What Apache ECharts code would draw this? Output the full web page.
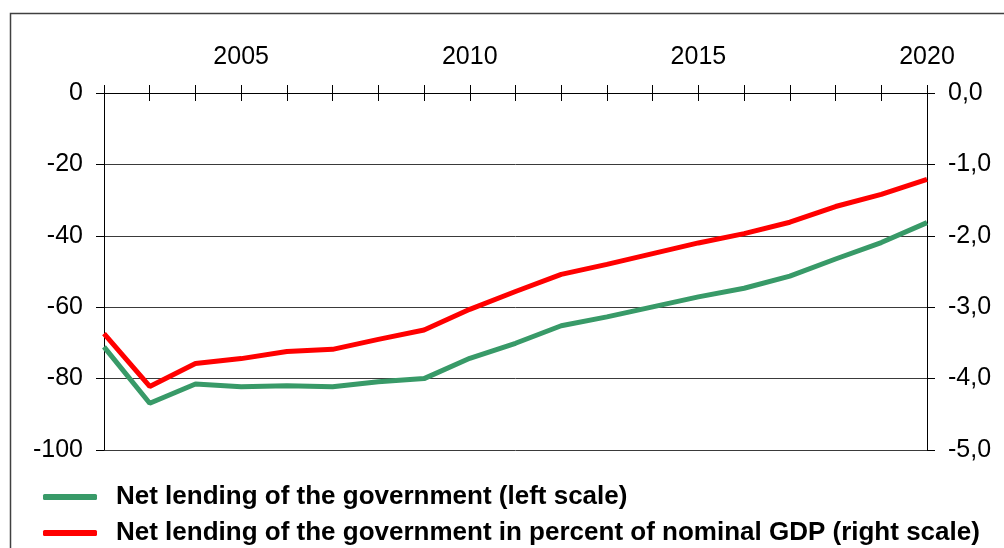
<!DOCTYPE html>
<html>
<head>
<meta charset="utf-8">
<script src="https://cdn.jsdelivr.net/npm/echarts@6/dist/echarts.min.js"></script>
<style>
    html, body { margin: 0; padding: 0; background: #fff; }
    #chart { width: 1004px; height: 548px; }
</style>
</head>
<body>
<div id="chart"></div>
<script>
// years on the top axis
const years = ['2002', '2003', '2004', '2005', '2006', '2007', '2008', '2009', '2010', '2011',
    '2012', '2013', '2014', '2015', '2016', '2017', '2018', '2019', '2020'];

// net lending, left scale
const netLending = [-71.1, -86.9, -81.5, -82.3, -82.0, -82.3, -80.9, -80.0, -74.3, -70.1,
    -65.2, -62.7, -59.9, -57.1, -54.7, -51.3, -46.5, -41.9, -36.3];

// net lending in percent of nominal GDP, right scale
const netLendingPct = [-3.37, -4.11, -3.79, -3.72, -3.62, -3.59, -3.45, -3.32, -3.03, -2.78,
    -2.54, -2.40, -2.25, -2.10, -1.97, -1.81, -1.59, -1.42, -1.21];

const seriesNames = [
    'Net lending of the government (left scale)',
    'Net lending of the government in percent of nominal GDP (right scale)'
];

const FONT = "'Liberation Sans', Arial, sans-serif";

const chart = echarts.init(document.getElementById('chart'));

const labelStyle = { color: '#000', fontSize: 25, fontFamily: FONT };

const option = {
    animation: false,
    graphic: [{
        type: 'rect',
        left: 8,
        top: 11,
        shape: { width: 1200, height: 800 },
        style: { fill: 'none', stroke: '#404040', lineWidth: 1.5 },
        silent: true
    }],
    grid: { left: 104, right: 77, top: 93, bottom: 98 },
    legend: {
        orient: 'vertical',
        left: 43,
        top: 484,
        padding: 0,
        icon: 'roundRect',
        itemWidth: 54,
        itemHeight: 6,
        itemGap: 10,
        data: seriesNames,
        textStyle: {
            color: '#000',
            fontSize: 26,
            fontWeight: 'bold',
            fontFamily: FONT,
            lineHeight: 26,
            padding: [0, 0, 0, 14]
        }
    },
    xAxis: [
        {
            type: 'category',
            position: 'top',
            boundaryGap: false,
            data: years,
            axisLine: { lineStyle: { color: '#000', width: 1 } },
            axisTick: { show: true, interval: 0, length: 8, lineStyle: { color: '#000' } },
            axisLabel: Object.assign({
                interval: (i, v) => Number(v) % 5 === 0,
                margin: 23
            }, labelStyle),
            splitLine: { show: false }
        },
        {
            type: 'category',
            position: 'top',
            boundaryGap: false,
            data: years,
            axisLine: { show: false },
            axisTick: { show: true, inside: true, interval: 0, length: 8, lineStyle: { color: '#000' } },
            axisLabel: { show: false },
            splitLine: { show: false }
        }
    ],
    yAxis: [
        {
            type: 'value',
            min: -100,
            max: 0,
            interval: 20,
            axisLine: { show: true, lineStyle: { color: '#000', width: 1 } },
            axisTick: { show: true, length: 8, lineStyle: { color: '#000' } },
            axisLabel: Object.assign({ margin: 21 }, labelStyle),
            splitLine: { show: true, lineStyle: { color: '#3a3a3a', width: 1 } }
        },
        {
            type: 'value',
            min: -5,
            max: 0,
            interval: 1,
            position: 'right',
            axisLine: { show: true, lineStyle: { color: '#000', width: 1 } },
            axisTick: { show: true, length: 8, lineStyle: { color: '#000' } },
            axisLabel: Object.assign({
                margin: 21,
                formatter: (v) => v.toFixed(1).replace('.', ',')
            }, labelStyle),
            splitLine: { show: false }
        }
    ],
    series: [
        {
            name: seriesNames[0],
            type: 'line',
            xAxisIndex: 0,
            yAxisIndex: 0,
            data: netLending,
            showSymbol: false,
            lineStyle: { color: '#389a68', width: 5 },
            itemStyle: { color: '#389a68' },
            z: 3
        },
        {
            name: seriesNames[1],
            type: 'line',
            xAxisIndex: 0,
            yAxisIndex: 1,
            data: netLendingPct,
            showSymbol: false,
            lineStyle: { color: '#ff0000', width: 5 },
            itemStyle: { color: '#ff0000' },
            z: 4
        }
    ]
};

chart.setOption(option);
</script>
</body>
</html>
